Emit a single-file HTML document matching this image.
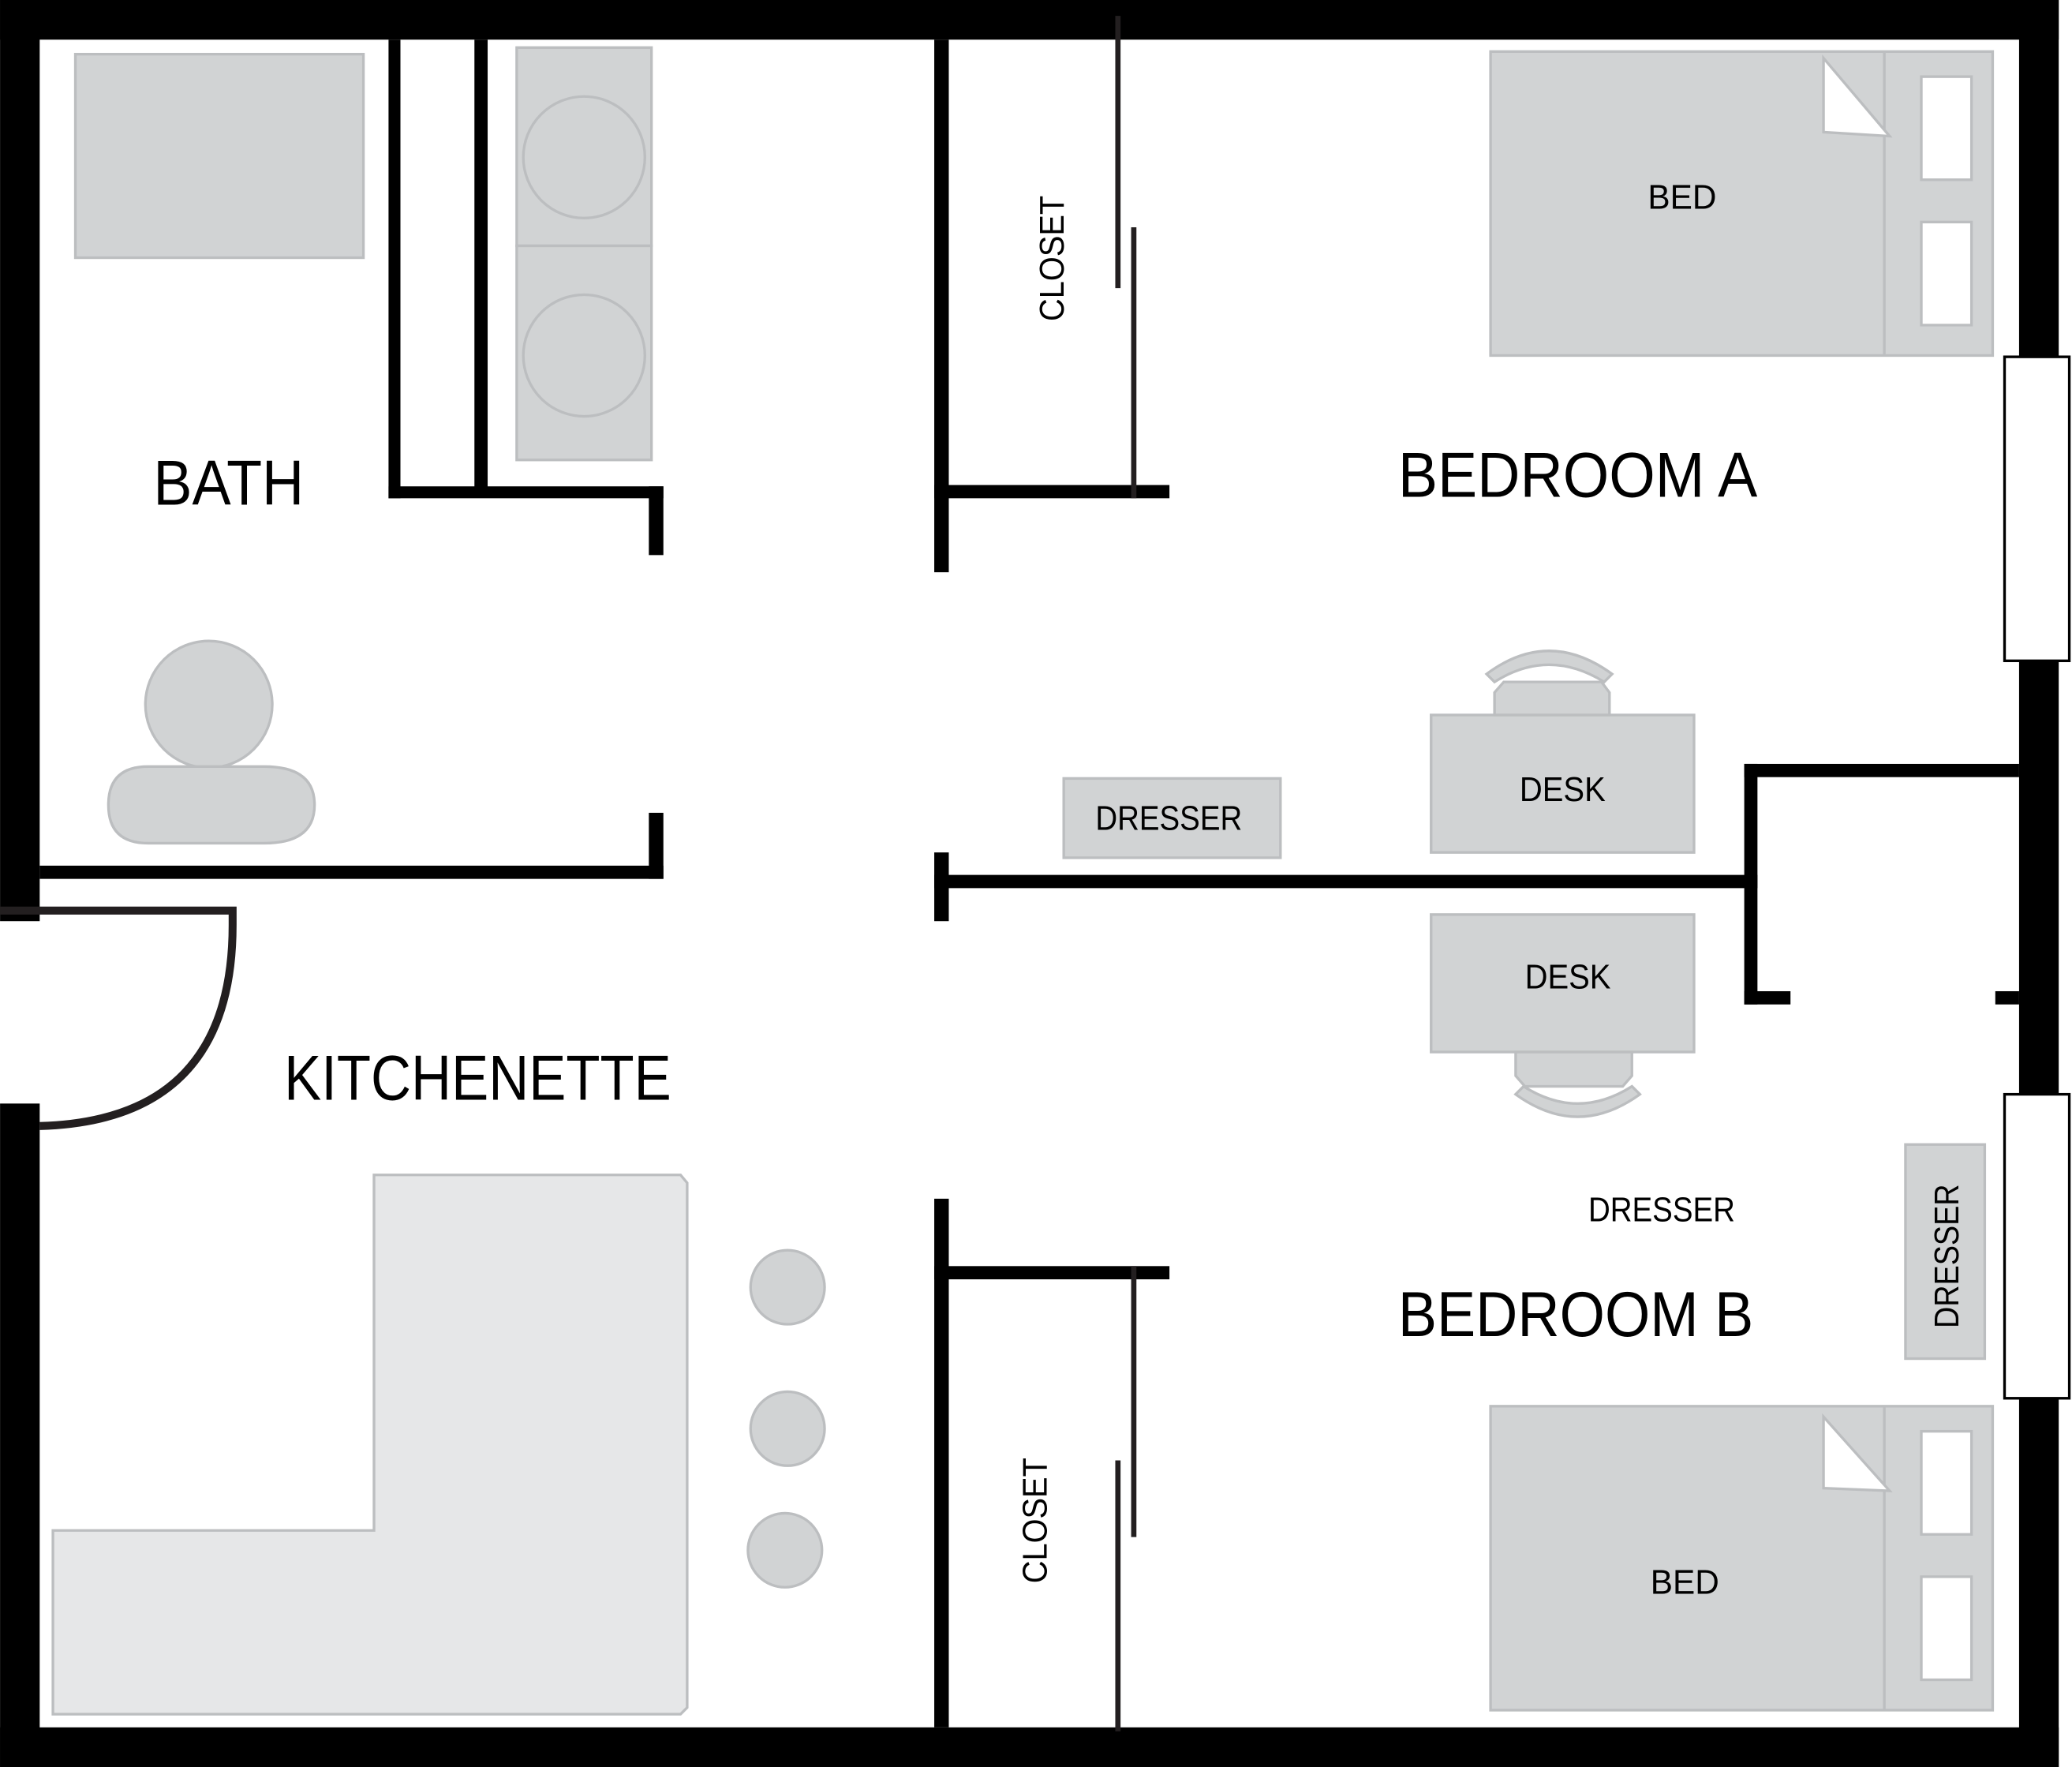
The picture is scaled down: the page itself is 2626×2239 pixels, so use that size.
<!DOCTYPE html>
<html><head><meta charset="utf-8"><style>
html,body{margin:0;padding:0;background:#fff}
svg{display:block}
text{font-family:"Liberation Sans",sans-serif;fill:#000}
</style></head><body>
<svg width="2626" height="2239" viewBox="0 0 1568 1337" xmlns="http://www.w3.org/2000/svg">
<rect width="1568" height="1337" fill="#fff"/>
<!-- furniture -->
<g fill="#d1d3d4" stroke="#bcbec0" stroke-width="2">
<rect x="57" y="41" width="218" height="154"/>
<rect x="391" y="36" width="102" height="150"/>
<rect x="391" y="186" width="102" height="162"/>
<circle cx="442" cy="119" r="46"/>
<circle cx="442" cy="269" r="46"/>
<ellipse cx="158" cy="533" rx="48" ry="48"/>
<path d="M112,580 L200,580 Q238,580 238,609 Q238,638 200,638 L112,638 Q82,638 82,609 Q82,580 112,580 Z"/>
<rect x="1128" y="39" width="380" height="230"/>
<rect x="1128" y="1064" width="380" height="230"/>
<rect x="1083" y="541" width="199" height="104"/>
<rect x="1083" y="692" width="199" height="104"/>
<path d="M1138,516 L1212,516 L1218,524 L1218,541 L1131,541 L1131,524 Z"/>
<path d="M1125,510 Q1172,475 1220,510 L1214,516 Q1172,490 1131,516 Z"/>
<path d="M1147,796 L1235,796 L1235,814 L1228,822 L1154,822 L1147,814 Z"/>
<path d="M1147,828 Q1194,862 1241,828 L1235,822 Q1194,848 1153,822 Z"/>
<rect x="805" y="589" width="164" height="60"/>
<rect x="1442" y="866" width="60" height="162"/>
<circle cx="596" cy="974" r="28"/>
<circle cx="596" cy="1081" r="28"/>
<circle cx="594" cy="1173" r="28"/>
</g>
<polygon points="283,889 515,889 520,895 520,1292 515,1297 40,1297 40,1158 283,1158" fill="#e6e7e8" stroke="#bcbec0" stroke-width="2"/>
<g stroke="#bcbec0" stroke-width="2" fill="#fff">
<line x1="1426" y1="39" x2="1426" y2="269"/>
<line x1="1426" y1="1064" x2="1426" y2="1294"/>
<rect x="1454" y="58" width="38" height="78"/>
<rect x="1454" y="168" width="38" height="78"/>
<rect x="1454" y="1083" width="38" height="78"/>
<rect x="1454" y="1193" width="38" height="78"/>
<polygon points="1380,44 1380,100 1430,103"/>
<polygon points="1380,1072 1380,1126 1430,1128"/>
</g>
<!-- walls -->
<g fill="#000">
<rect x="0" y="0" width="1558" height="30"/>
<rect x="0" y="0" width="30" height="697"/>
<rect x="0" y="835" width="30" height="502"/>
<rect x="0" y="1307" width="1558" height="30"/>
<rect x="1528" y="0" width="30" height="283"/>
<rect x="1528" y="490" width="30" height="350"/>
<rect x="1528" y="1048" width="30" height="289"/>
<rect x="294" y="30" width="9" height="347"/>
<rect x="359" y="30" width="10" height="343"/>
<rect x="294" y="368" width="208" height="9"/>
<rect x="491" y="368" width="11" height="52"/>
<rect x="491" y="615" width="11" height="50"/>
<rect x="30" y="655" width="472" height="10"/>
<rect x="707" y="30" width="11" height="403"/>
<rect x="707" y="367" width="178" height="10"/>
<rect x="707" y="645" width="11" height="52"/>
<rect x="707" y="662" width="623" height="10"/>
<rect x="1320" y="578" width="10" height="182"/>
<rect x="1320" y="578" width="208" height="10"/>
<rect x="1320" y="750" width="35" height="10"/>
<rect x="1510" y="750" width="18" height="10"/>
<rect x="707" y="907" width="11" height="400"/>
<rect x="707" y="958" width="178" height="10"/>
</g>
<g stroke="#231f20" stroke-width="4">
<line x1="846" y1="12" x2="846" y2="218"/>
<line x1="858" y1="172" x2="858" y2="377"/>
<line x1="858" y1="958" x2="858" y2="1163"/>
<line x1="846" y1="1105" x2="846" y2="1310"/>
</g>
<!-- door -->
<path d="M0,689 L176,689 L176,700 Q176,848 30,852" fill="none" stroke="#231f20" stroke-width="6"/>
<!-- windows -->
<g fill="#fff" stroke="#000" stroke-width="2">
<rect x="1517" y="270" width="49" height="230"/>
<rect x="1517" y="828" width="49" height="230"/>
</g>
<!-- labels -->
<g>
<text x="116" y="382" font-size="48" textLength="114" lengthAdjust="spacingAndGlyphs">BATH</text>
<text x="1058" y="376" font-size="48" textLength="272" lengthAdjust="spacingAndGlyphs">BEDROOM A</text>
<text x="215" y="832" font-size="48" textLength="293" lengthAdjust="spacingAndGlyphs">KITCHENETTE</text>
<text x="1058" y="1011" font-size="48" textLength="269" lengthAdjust="spacingAndGlyphs">BEDROOM B</text>
<text x="1247" y="158" font-size="26" textLength="52" lengthAdjust="spacingAndGlyphs">BED</text>
<text x="1249" y="1206" font-size="26" textLength="52" lengthAdjust="spacingAndGlyphs">BED</text>
<text x="1150" y="606" font-size="26" textLength="65" lengthAdjust="spacingAndGlyphs">DESK</text>
<text x="1154" y="748" font-size="26" textLength="65" lengthAdjust="spacingAndGlyphs">DESK</text>
<text x="829" y="628" font-size="26" textLength="111" lengthAdjust="spacingAndGlyphs">DRESSER</text>
<text x="1202" y="924" font-size="26" textLength="111" lengthAdjust="spacingAndGlyphs">DRESSER</text>
<text transform="translate(1482,1005) rotate(-90)" font-size="26" textLength="109" lengthAdjust="spacingAndGlyphs">DRESSER</text>
<text transform="translate(805,243) rotate(-90)" font-size="26" textLength="95" lengthAdjust="spacingAndGlyphs">CLOSET</text>
<text transform="translate(792,1198) rotate(-90)" font-size="26" textLength="95" lengthAdjust="spacingAndGlyphs">CLOSET</text>
</g>
</svg>
</body></html>
